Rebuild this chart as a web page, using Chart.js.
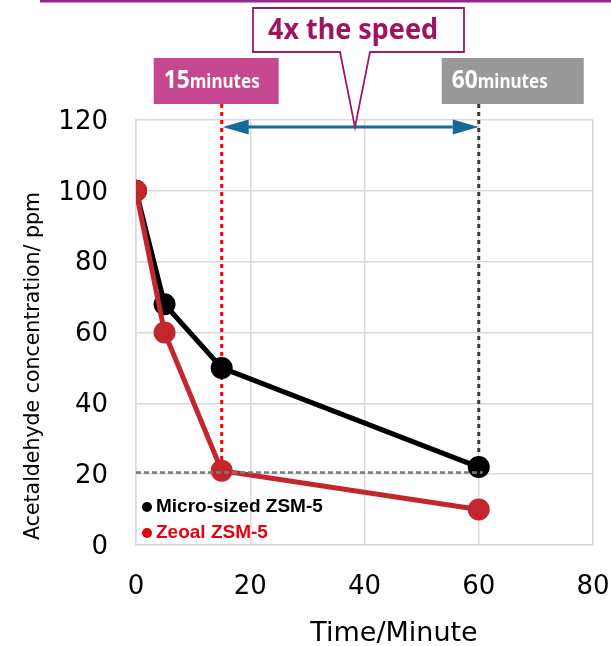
<!DOCTYPE html>
<html>
<head>
<meta charset="utf-8">
<script src="https://cdn.jsdelivr.net/npm/chart.js@4"></script>
<style>
  html, body { margin: 0; padding: 0; background: #fff; }
  #wrap { width: 611px; height: 646px; position: relative; }
</style>
</head>
<body>
<div id="wrap"><canvas id="mainChart" width="611" height="646"></canvas></div>
<script>
// === Data ===
const times = [0, 5, 15, 60];                 // minutes
const microSized = [100, 68, 50, 22];         // Micro-sized ZSM-5, ppm
const zeoal = [100, 60, 21, 10];              // Zeoal ZSM-5, ppm
const seriesNames = ["Micro-sized ZSM-5", "Zeoal ZSM-5"];
const xRange = [0, 80];
const yRange = [0, 120];
const tickStep = 20;
const markTimes = [15, 60];                   // the two marked times
const markLabels = ["15", "60"];
const thresholdLevel = 20.5;                  // dashed level line
const arrowLevel = 118;                       // height of the double arrow
const calloutText = "4x the speed";

const toPoints = (xs, ys) => xs.map((x, i) => ({ x: x, y: ys[i] }));

// === Annotation drawing (boxes, arrow, guide lines, legend) ===
const annotations = {
  id: "annotations",
  beforeDatasetsDraw(chart) {
    const { ctx, scales: { x, y } } = chart;
    const x15 = x.getPixelForValue(markTimes[0]);
    const x60 = x.getPixelForValue(markTimes[1]);

    ctx.save();
    ctx.lineWidth = 3;
    // red dotted at 15 min
    ctx.strokeStyle = "#ff0000";
    ctx.setLineDash([4, 4]);
    ctx.beginPath();
    ctx.moveTo(x15, 104);
    ctx.lineTo(x15, y.getPixelForValue(thresholdLevel));
    ctx.stroke();
    // dark dotted at 60 min
    ctx.strokeStyle = "#3a3a3a";
    ctx.beginPath();
    ctx.moveTo(x60, 104);
    ctx.lineTo(x60, y.getPixelForValue(microSized[3]));
    ctx.stroke();
    ctx.restore();
  },
  afterDatasetsDraw(chart) {
    const { ctx, scales: { x, y } } = chart;
    const x15 = x.getPixelForValue(markTimes[0]);
    const x60 = x.getPixelForValue(markTimes[1]);
    const yT = y.getPixelForValue(thresholdLevel);
    const yA = y.getPixelForValue(arrowLevel);

    ctx.save();
    // grey dashed level line
    ctx.strokeStyle = "#7a7a7a";
    ctx.lineWidth = 2.5;
    ctx.setLineDash([5, 3]);
    ctx.beginPath();
    ctx.moveTo(x.left, yT);
    ctx.lineTo(x60 + 4, yT);
    ctx.stroke();
    ctx.setLineDash([]);

    // top purple rule
    ctx.fillStyle = "#93278f";
    ctx.fillRect(40, 0, 571, 2.5);

    // double arrow
    const blue = "#186a96";
    const head = 26;
    ctx.strokeStyle = blue;
    ctx.fillStyle = blue;
    ctx.lineWidth = 3;
    ctx.beginPath();
    ctx.moveTo(x15 + head, yA);
    ctx.lineTo(x60 - head, yA);
    ctx.stroke();
    ctx.beginPath();
    ctx.moveTo(x15 + 1, yA);
    ctx.lineTo(x15 + 1 + head, yA - 7.5);
    ctx.lineTo(x15 + 1 + head, yA + 7.5);
    ctx.closePath();
    ctx.fill();
    ctx.beginPath();
    ctx.moveTo(x60, yA);
    ctx.lineTo(x60 - head, yA - 7.5);
    ctx.lineTo(x60 - head, yA + 7.5);
    ctx.closePath();
    ctx.fill();

    // callout box with pointer
    const bl = 253, br = 464, bt = 8, bb = 52, tipX = 355;
    ctx.strokeStyle = "#9c1a68";
    ctx.lineWidth = 1.8;
    ctx.fillStyle = "#fff";
    ctx.beginPath();
    ctx.moveTo(bl, bt);
    ctx.lineTo(br, bt);
    ctx.lineTo(br, bb);
    ctx.lineTo(370, bb);
    ctx.lineTo(tipX, yA);
    ctx.lineTo(340, bb);
    ctx.lineTo(bl, bb);
    ctx.closePath();
    ctx.fill();
    ctx.stroke();
    ctx.fillStyle = "#a0135f";
    ctx.font = "bold 29px 'Noto Sans'";
    ctx.textBaseline = "alphabetic";
    ctx.textAlign = "left";
    ctx.fillText(calloutText, 268, 39, 170);

    // time boxes
    const drawTimeBox = (left, width, color, num) => {
      ctx.fillStyle = color;
      ctx.fillRect(left, 58, width, 46);
      ctx.fillStyle = "#fff";
      ctx.font = "bold 25px 'Noto Sans'";
      ctx.fillText(num, left + 10, 88, 26);
      ctx.font = "bold 20px 'Noto Sans'";
      ctx.fillText("minutes", left + 36, 88, 70);
    };
    drawTimeBox(x15 - 68, 125, "#c4478f", markLabels[0]);
    drawTimeBox(x60 - 37, 142, "#999999", markLabels[1]);

    // legend inside plot
    const legendColors = ["#000000", "#e60012"];
    ctx.font = "bold 19px 'Liberation Sans'";
    seriesNames.forEach((name, i) => {
      const ly = 507 + i * 26;
      ctx.fillStyle = legendColors[i];
      ctx.beginPath();
      ctx.arc(147, ly, 5, 0, Math.PI * 2);
      ctx.fill();
      ctx.textBaseline = "middle";
      ctx.fillText(name, 156, ly, i === 0 ? 168 : 118);
    });

    // axis titles
    ctx.fillStyle = "#000";
    ctx.font = "27px 'DejaVu Sans'";
    ctx.textAlign = "center";
    ctx.textBaseline = "alphabetic";
    ctx.fillText("Time/Minute", 394, 641, 172);
    ctx.translate(39, 366);
    ctx.rotate(-Math.PI / 2);
    ctx.font = "20.5px 'DejaVu Sans'";
    ctx.fillText("Acetaldehyde concentration/ ppm", 0, 0, 348);
    ctx.restore();
  }
};

const ctx = document.getElementById("mainChart");
new Chart(ctx.getContext("2d"), {
  type: "scatter",
  data: {
    datasets: [
      {
        label: seriesNames[0],
        data: toPoints(times, microSized),
        showLine: true,
        borderColor: "#000000",
        backgroundColor: "#000000",
        borderWidth: 5,
        pointRadius: 8.5,
        pointHoverRadius: 8.5,
        order: 2
      },
      {
        label: seriesNames[1],
        data: toPoints(times, zeoal),
        showLine: true,
        borderColor: "#c4262e",
        backgroundColor: "#c4262e",
        borderWidth: 5,
        pointRadius: 8.5,
        pointHoverRadius: 8.5,
        order: 1
      }
    ]
  },
  options: {
    responsive: false,
    animation: false,
    events: [],
    layout: { padding: { top: 120, right: 0, left: 0, bottom: 0 } },
    plugins: {
      legend: { display: false },
      tooltip: { enabled: false }
    },
    scales: {
      x: {
        type: "linear",
        min: xRange[0],
        max: xRange[1],
        ticks: {
          stepSize: tickStep,
          padding: 27,
          color: "#000",
          font: { family: "'DejaVu Sans'", size: 26 }
        },
        grid: { color: "#d9d9d9", lineWidth: 1.5, drawTicks: false },
        border: { color: "#d9d9d9", width: 1.5 },
        afterFit(scale) {
          scale.height = 101;
          scale.paddingLeft = 0;
          scale.paddingRight = 18;
        }
      },
      y: {
        min: yRange[0],
        max: yRange[1],
        ticks: {
          stepSize: tickStep,
          padding: 28,
          labelOffset: 2,
          color: "#000",
          font: { family: "'DejaVu Sans'", size: 26 }
        },
        grid: { color: "#d9d9d9", lineWidth: 1.5, drawTicks: false },
        border: { color: "#d9d9d9", width: 1.5 },
        afterFit(scale) { scale.width = 136; }
      }
    }
  },
  plugins: [annotations]
});
</script>
</body>
</html>
